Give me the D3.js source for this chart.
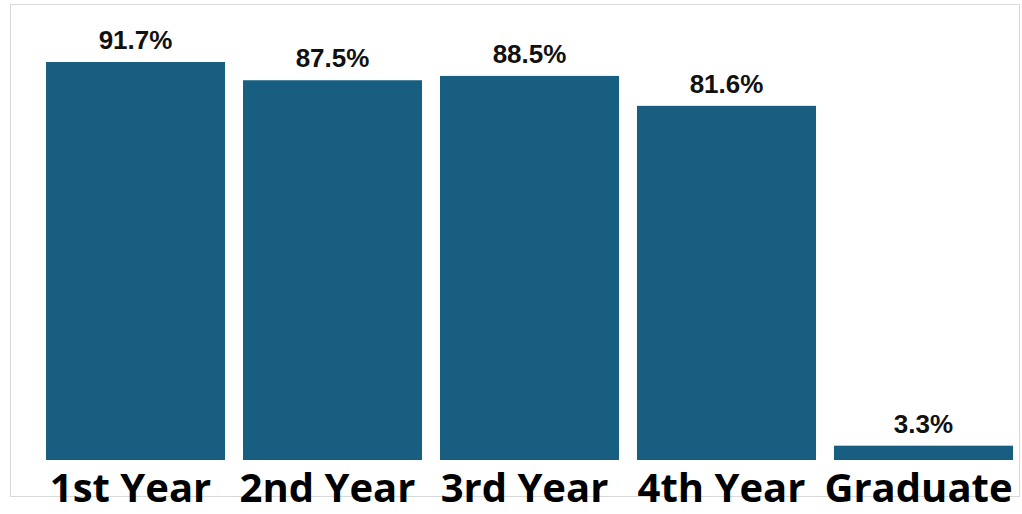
<!DOCTYPE html>
<html>
<head>
<meta charset="utf-8">
<script src="https://cdn.jsdelivr.net/npm/d3@7"></script>
<style>
html,body{margin:0;padding:0;background:#fff;}
svg{display:block;}
</style>
</head>
<body>
<svg id="chart" width="1022" height="514"></svg>
<script>
const categories = ["1st Year", "2nd Year", "3rd Year", "4th Year", "Graduate"];
const values = [91.7, 87.5, 88.5, 81.6, 3.3];
const valueLabels = ["91.7%", "87.5%", "88.5%", "81.6%", "3.3%"];

const svg = d3.select("#chart");

svg.append("rect")
  .attr("x", 10.5).attr("y", 4.5)
  .attr("width", 1009).attr("height", 492)
  .attr("fill", "#fff").attr("stroke", "#d9d9d9").attr("stroke-width", 1);

const x = d3.scaleBand().domain(categories).range([46, 1013]).paddingInner(0.0914).paddingOuter(0);
const y = d3.scaleLinear().domain([0, 100]).range([460, 26]);

const data = categories.map((c, i) => ({c, v: values[i], l: valueLabels[i]}));

svg.selectAll("rect.bar").data(data).join("rect")
  .attr("class", "bar")
  .attr("x", d => x(d.c))
  .attr("y", d => y(d.v))
  .attr("width", x.bandwidth())
  .attr("height", d => y(0) - y(d.v))
  .attr("fill", "#175e80");

svg.selectAll("text.val").data(data).join("text")
  .attr("class", "val")
  .attr("x", d => x(d.c) + x.bandwidth() / 2)
  .attr("y", d => y(d.v) - 13)
  .attr("text-anchor", "middle")
  .attr("font-family", "Liberation Sans, Arial, sans-serif")
  .attr("font-weight", "bold")
  .attr("font-size", 26)
  .attr("fill", "#111")
  .text(d => d.l);

const xAxis = d3.axisBottom(x).tickSize(0).tickPadding(0);
const g = svg.append("g").attr("transform", "translate(0,470)").call(xAxis);
g.select(".domain").remove();
g.selectAll("text")
  .attr("dy", null)
  .attr("y", 32)
  .attr("dx", -5)
  .attr("font-family", "Open Sans, sans-serif")
  .attr("font-weight", "bold")
  .attr("font-size", 40)
  .attr("fill", "#000");
</script>
</body>
</html>
